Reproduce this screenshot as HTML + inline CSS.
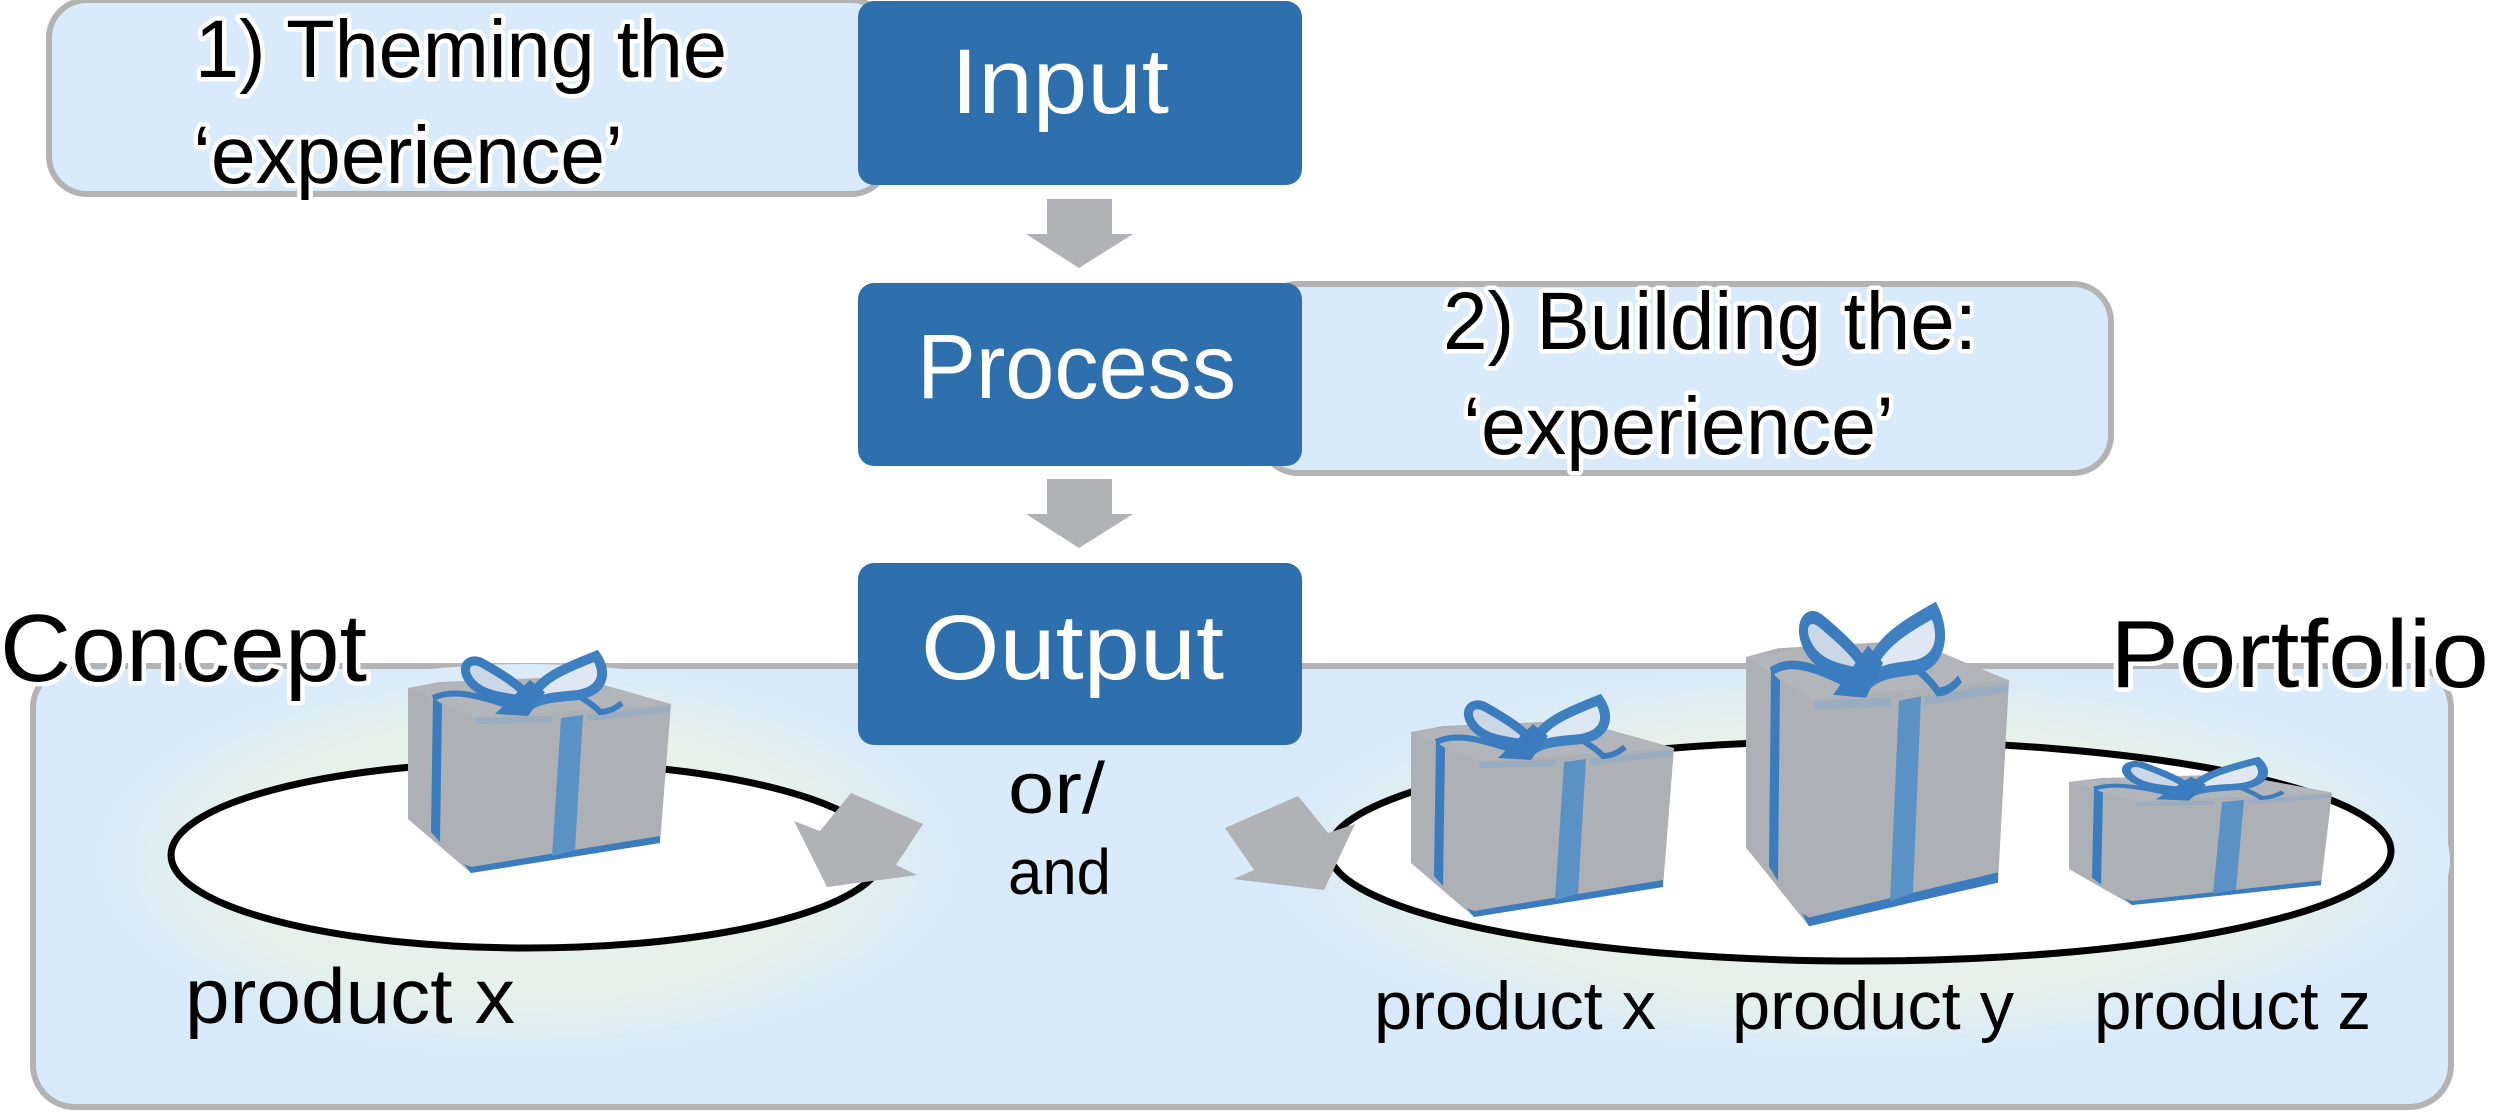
<!DOCTYPE html>
<html><head><meta charset="utf-8"><style>
html,body{margin:0;padding:0;background:#fff;width:2500px;height:1112px;overflow:hidden}
svg{display:block}
text{font-family:"Liberation Sans",sans-serif}
.h{fill:#000;stroke:#fff;stroke-width:9px;paint-order:stroke;stroke-linejoin:round}
.w{fill:#fff}
.k{fill:#000}
</style></head><body>
<svg width="2500" height="1112" viewBox="0 0 2500 1112" xmlns="http://www.w3.org/2000/svg">
<defs>
<radialGradient id="g1" cx="50%" cy="50%" r="50%">
<stop offset="0" stop-color="#e6f1e8"/><stop offset=".7" stop-color="#e6f1e9"/><stop offset="1" stop-color="#d9ebfb"/>
</radialGradient>
<g id="gift">
<polygon fill="#adb0b5" points="408,688 440,682 540,678 600,684 671,704 660,843 471,873 408,819"/>
<polygon fill="#b2b5b9" points="408,688 475,717 671,704 600,684 500,678"/>
<polygon fill="#3a7cbd" points="471,867 660,836 660,843 471,873 464,864"/>
<polygon fill="#5b92c6" points="561,718 583,715 575,850 552,856"/>
<polygon fill="#3a7cbd" points="433,698 442,704 440,842 431,832"/>
<polygon fill="#8aa9c8" opacity=".55" points="476,718 553,716 553,722 476,724"/>
<polygon fill="#8aa9c8" opacity=".55" points="586,715 670,706 670,712 588,721"/>
<path d="M433,698 C450,690 470,692 515,708" fill="none" stroke="#3a7cbd" stroke-width="6"/>
<path d="M570,690 C585,700 595,706 600,712 C608,712 616,708 622,703" fill="none" stroke="#3a7cbd" stroke-width="6"/>
<path d="M529,701 C500,697 478,695 468,678 C460,664 472,656 484,664 C505,676 524,688 530,700 Z" fill="#c9d7e6" stroke="#3a7cbd" stroke-width="9"/>
<path d="M532,700 C536,680 565,668 596,656 C606,670 606,690 578,695 C560,697 545,697 532,704 Z" fill="#dfe8f2" stroke="#3f80c0" stroke-width="10"/>
<path d="M495,714 L530,680 L545,692 L528,716 Z" fill="#3a7cbd"/>
</g>
</defs>

<!-- panel -->
<rect x="33" y="666" width="2418" height="441" rx="42" fill="#d9ebfb" stroke="#b3b3b3" stroke-width="6"/>
<ellipse cx="527" cy="860" rx="430" ry="196" fill="url(#g1)"/>
<ellipse cx="1860" cy="860" rx="590" ry="194" fill="url(#g1)"/>
<ellipse cx="527" cy="855" rx="356" ry="93" fill="#fff" stroke="#000" stroke-width="7"/>
<ellipse cx="1860" cy="851" rx="531" ry="110" fill="#fff" stroke="#000" stroke-width="7"/>

<!-- callouts -->
<rect x="49" y="0" width="840" height="194" rx="38" fill="#d9ebfb" stroke="#b3b3b3" stroke-width="6"/>
<rect x="1260" y="284" width="851" height="189" rx="38" fill="#d9ebfb" stroke="#b3b3b3" stroke-width="6"/>

<!-- boxes -->
<rect x="858" y="1" width="444" height="184" rx="16" fill="#2e70ae"/>
<rect x="858" y="283" width="444" height="183" rx="16" fill="#2e70ae"/>
<rect x="858" y="563" width="444" height="182" rx="16" fill="#2e70ae"/>

<!-- vertical arrows -->
<polygon fill="#b0b2b5" points="1047,199 1112,199 1112,234 1133,234 1079,268 1026,234 1047,234"/>
<polygon fill="#b0b2b5" points="1047,479 1112,479 1112,514 1133,514 1079,548 1026,514 1047,514"/>

<!-- gifts -->
<use href="#gift"/>
<use href="#gift" transform="translate(1003,44)"/>
<use href="#gift" transform="translate(1338,-344) scale(1,1.455)"/>
<use href="#gift" transform="translate(1661,324.5) scale(1,.665)"/>

<!-- angled arrows -->
<polygon fill="#b0b2b5" points="851,793 923,824 896,865 917,875 827,887 794,821 820,831"/>
<polygon fill="#b0b2b5" points="1298,796 1225,828 1254,870 1233,879 1324,890 1355,824 1328,833"/>

<!-- text -->
<text class="h" x="195" y="77" font-size="82" textLength="532" lengthAdjust="spacingAndGlyphs">1) Theming the</text>
<text class="h" x="193" y="183" font-size="82" textLength="430" lengthAdjust="spacingAndGlyphs">‘experience’</text>
<text class="w" x="951" y="113" font-size="92" textLength="218" lengthAdjust="spacingAndGlyphs">Input</text>
<text class="w" x="917" y="398" font-size="92" textLength="319" lengthAdjust="spacingAndGlyphs">Process</text>
<text class="h" x="1443" y="349" font-size="82" textLength="534" lengthAdjust="spacingAndGlyphs">2) Building the:</text>
<text class="h" x="1463" y="454" font-size="82" textLength="431" lengthAdjust="spacingAndGlyphs">‘experience’</text>
<text class="w" x="921" y="679" font-size="92" textLength="303" lengthAdjust="spacingAndGlyphs">Output</text>
<text class="h" x="0" y="681" font-size="96" textLength="367" lengthAdjust="spacingAndGlyphs">Concept</text>
<text class="h" x="2110" y="687" font-size="96" textLength="379" lengthAdjust="spacingAndGlyphs">Portfolio</text>
<text class="k" x="185" y="1023" font-size="78" textLength="330" lengthAdjust="spacingAndGlyphs">product x</text>
<text class="k" x="1008" y="813" font-size="72" textLength="97" lengthAdjust="spacingAndGlyphs">or/</text>
<text class="k" x="1008" y="894" font-size="64" textLength="103" lengthAdjust="spacingAndGlyphs">and</text>
<text class="k" x="1374" y="1029" font-size="68" textLength="282" lengthAdjust="spacingAndGlyphs">product x</text>
<text class="k" x="1732" y="1029" font-size="68" textLength="282" lengthAdjust="spacingAndGlyphs">product y</text>
<text class="k" x="2094" y="1029" font-size="68" textLength="277" lengthAdjust="spacingAndGlyphs">product z</text>
</svg>
</body></html>
